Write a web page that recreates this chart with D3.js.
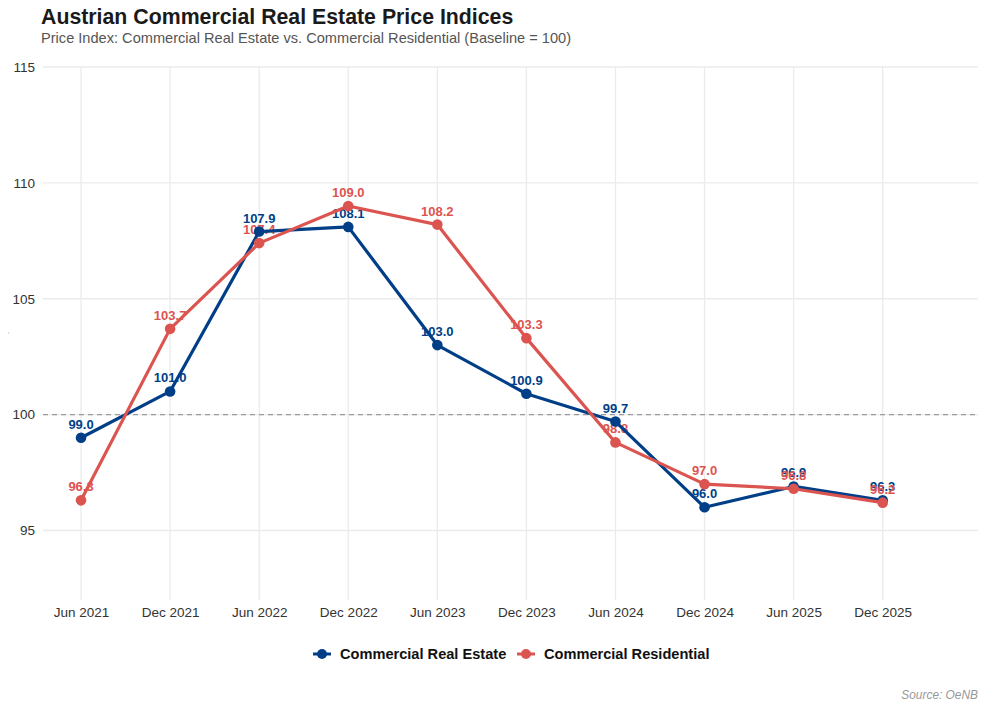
<!DOCTYPE html>
<html lang="en">
<head>
    <meta charset="UTF-8">
    <title>Austrian Commercial Real Estate Price Indices</title>
    <script src="https://d3js.org/d3.v7.min.js"></script>
    <style>
        body { margin: 0; background: #fff; }
        text { font-family: "Liberation Sans", Arial, sans-serif; }
    </style>
</head>
<body>
<script type="text/javascript">
    var periods = ["Jun 2021", "Dec 2021", "Jun 2022", "Dec 2022", "Jun 2023",
                   "Dec 2023", "Jun 2024", "Dec 2024", "Jun 2025", "Dec 2025"];
    var commercialRealEstate = [99.0, 101.0, 107.9, 108.1, 103.0, 100.9, 99.7, 96.0, 96.9, 96.3];
    var commercialResidential = [96.3, 103.7, 107.4, 109.0, 108.2, 103.3, 98.8, 97.0, 96.8, 96.2];
    var yTicks = [95, 100, 105, 110, 115];
    var seriesNames = ["Commercial Real Estate", "Commercial Residential"];

    var svgWidth = 986;
    var svgHeight = 710;
    var colors = ["#003F88", "#DC5450"];

    var series = [commercialRealEstate, commercialResidential].map(function (vals, s) {
        return {
            name: seriesNames[s],
            color: colors[s],
            values: vals.map(function (v, i) { return {i: i, v: v}; })
        };
    });

    var xScale = d3.scaleLinear().domain([-0.427, 10.07]).range([43, 978]);
    var yScale = d3.scaleLinear().domain([92, 115]).range([600, 67]);

    var svg = d3.select("body").append("svg")
        .attr("width", svgWidth)
        .attr("height", svgHeight);

    // grid
    svg.append("g").selectAll("line")
        .data(yTicks)
        .enter().append("line")
        .attr("x1", xScale.range()[0]).attr("x2", xScale.range()[1])
        .attr("y1", function (d) { return yScale(d); })
        .attr("y2", function (d) { return yScale(d); })
        .attr("stroke", "#ebebeb").attr("stroke-width", 1.3);
    svg.append("g").selectAll("line")
        .data(periods)
        .enter().append("line")
        .attr("x1", function (d, i) { return xScale(i); })
        .attr("x2", function (d, i) { return xScale(i); })
        .attr("y1", yScale.range()[1]).attr("y2", yScale.range()[0])
        .attr("stroke", "#ebebeb").attr("stroke-width", 1.3);

    // axes (text only, theme_minimal style)
    var yAxis = d3.axisLeft(yScale).tickValues(yTicks).tickSize(0).tickPadding(8);
    var gy = svg.append("g")
        .attr("transform", "translate(" + xScale.range()[0] + ",0)")
        .call(yAxis);
    var xAxis = d3.axisBottom(xScale)
        .tickValues(d3.range(periods.length))
        .tickFormat(function (i) { return periods[i]; })
        .tickSize(0).tickPadding(7);
    var gx = svg.append("g")
        .attr("transform", "translate(0," + yScale.range()[0] + ")")
        .call(xAxis);
    [gx, gy].forEach(function (g) {
        g.select(".domain").remove();
        g.selectAll("text")
            .attr("font-size", "13.5px")
            .attr("fill", "#333")
            .style("font-family", "'Liberation Sans', Arial, sans-serif");
    });

    // tiny empty y-axis title mark
    svg.append("text")
        .attr("transform", "translate(10,333) rotate(-90)")
        .attr("text-anchor", "middle")
        .attr("font-size", "8px").attr("fill", "#bbb")
        .text("-");

    // baseline
    svg.append("line")
        .attr("x1", xScale.range()[0]).attr("x2", xScale.range()[1])
        .attr("y1", yScale(100)).attr("y2", yScale(100))
        .attr("stroke", "#9a9a9a").attr("stroke-width", 1.2)
        .attr("stroke-dasharray", "5,4");

    // value labels
    series.forEach(function (s) {
        svg.append("g").selectAll("text")
            .data(s.values)
            .enter().append("text")
            .attr("x", function (d) { return xScale(d.i); })
            .attr("y", function (d) { return yScale(d.v) - 9; })
            .attr("text-anchor", "middle")
            .attr("font-size", "13px")
            .attr("font-weight", "bold")
            .attr("fill", s.color)
            .text(function (d) { return d.v.toFixed(1); });
    });

    var line = d3.line()
        .x(function (d) { return xScale(d.i); })
        .y(function (d) { return yScale(d.v); });

    series.forEach(function (s) {
        svg.append("path")
            .datum(s.values)
            .attr("d", line)
            .attr("fill", "none")
            .attr("stroke", s.color)
            .attr("stroke-width", 3.2)
            .attr("stroke-linejoin", "round");
        svg.append("g").selectAll("circle")
            .data(s.values)
            .enter().append("circle")
            .attr("cx", function (d) { return xScale(d.i); })
            .attr("cy", function (d) { return yScale(d.v); })
            .attr("r", 5.3)
            .attr("fill", s.color);
    });

    // legend
    var legendX = [313, 517];
    var legend = svg.append("g").attr("transform", "translate(0,654)");
    series.forEach(function (s, k) {
        var g = legend.append("g").attr("transform", "translate(" + legendX[k] + ",0)");
        g.append("line").attr("x1", 0).attr("x2", 18).attr("y1", 0).attr("y2", 0)
            .attr("stroke", s.color).attr("stroke-width", 3);
        g.append("circle").attr("cx", 9).attr("cy", 0).attr("r", 5).attr("fill", s.color);
        g.append("text").attr("x", 27).attr("y", 5)
            .attr("font-size", "14.6px").attr("font-weight", "bold").attr("fill", "#111")
            .text(s.name);
    });

    // titles
    svg.append("text").attr("x", 41).attr("y", 24)
        .attr("font-size", "21.3px").attr("font-weight", "bold").attr("fill", "#1a1a1a")
        .text("Austrian Commercial Real Estate Price Indices");
    svg.append("text").attr("x", 41).attr("y", 43)
        .attr("font-size", "14.6px").attr("fill", "#555")
        .text("Price Index: Commercial Real Estate vs. Commercial Residential (Baseline = 100)");
    svg.append("text").attr("x", 978).attr("y", 699)
        .attr("text-anchor", "end")
        .attr("font-size", "11.9px").attr("font-style", "italic").attr("fill", "#999")
        .text("Source: OeNB");
</script>
</body>
</html>
